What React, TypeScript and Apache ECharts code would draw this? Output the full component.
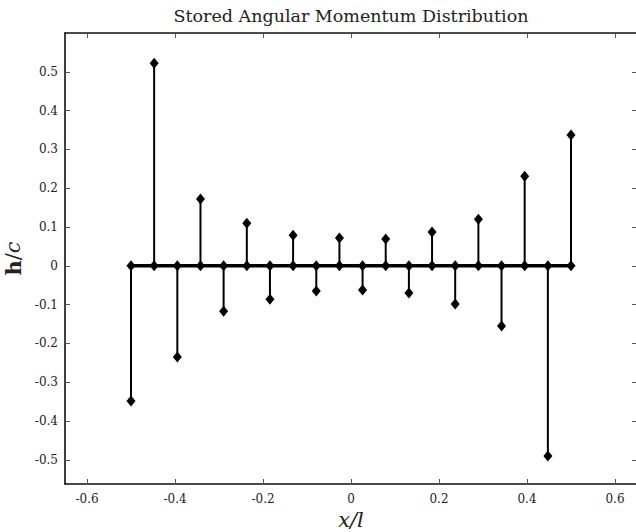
import React, { useEffect, useRef } from "react";
import * as echarts from "echarts";

const xPositions = [
  -0.5, -0.4474, -0.3947, -0.3421, -0.2895, -0.2368, -0.1842, -0.1316, -0.0789, -0.0263,
  0.0263, 0.0789, 0.1316, 0.1842, 0.2368, 0.2895, 0.3421, 0.3947, 0.4474, 0.5,
];
const hValues = [
  -0.348, 0.522, -0.235, 0.172, -0.117, 0.11, -0.086, 0.079, -0.065, 0.072,
  -0.062, 0.069, -0.07, 0.087, -0.098, 0.12, -0.155, 0.231, -0.49, 0.337,
];
const xTicks = [-0.6, -0.4, -0.2, 0, 0.2, 0.4, 0.6];
const yTicks = [-0.5, -0.4, -0.3, -0.2, -0.1, 0, 0.1, 0.2, 0.3, 0.4, 0.5];

const FONT = "DejaVu Serif";

export default function App() {
  const ref = useRef<HTMLDivElement>(null);
  useEffect(() => {
    document.body.style.margin = "0";
    const chart = echarts.init(ref.current!, null, { renderer: "svg" });
    const fmt = (v: number) => (Math.abs(v) < 1e-9 ? "0" : v.toFixed(1));
    const frameLine = { show: true, onZero: false, lineStyle: { color: "#111", width: 1.6 } };
    const tick = (vals: number[]) => ({
      show: true,
      inside: true,
      length: 5,
      customValues: vals,
      lineStyle: { color: "#555", width: 1 },
    });
    const stemData = xPositions.map((x, i) => [x, hValues[i]]);
    const baseData = xPositions.map((x) => [x, 0]);
    chart.setOption({
      animation: false,
      backgroundColor: "#fff",
      title: {
        text: "Stored Angular Momentum Distribution",
        left: 346,
        top: 2,
        textAlign: "center",
        textStyle: { fontFamily: FONT, fontWeight: "normal", fontSize: 17.5, color: "#222" },
      },
      grid: { left: 65, top: 33, width: 572, height: 451, outerBoundsMode: "none", containLabel: false },
      xAxis: [
        {
          type: "value",
          position: "bottom",
          min: -0.65,
          max: 0.65,
          axisLine: frameLine,
          axisTick: tick(xTicks),
          axisLabel: {
            customValues: xTicks,
            formatter: fmt,
            fontFamily: FONT,
            fontSize: 12,
            color: "#222",
            margin: 9,
          },
          splitLine: { show: false },
          name: "x/l",
          nameLocation: "middle",
          nameGap: 22,
          nameTextStyle: { fontFamily: FONT, fontStyle: "italic", fontSize: 21, color: "#222" },
        },
        {
          type: "value",
          position: "top",
          min: -0.65,
          max: 0.65,
          axisLine: frameLine,
          axisTick: tick(xTicks),
          axisLabel: { show: false },
          splitLine: { show: false },
        },
      ],
      yAxis: [
        {
          type: "value",
          position: "left",
          min: -0.562,
          max: 0.6,
          axisLine: frameLine,
          axisTick: tick(yTicks),
          axisLabel: {
            customValues: yTicks,
            formatter: fmt,
            fontFamily: FONT,
            fontSize: 12,
            color: "#222",
            margin: 7,
          },
          splitLine: { show: false },
          name: "{b|h}{n|/}{i|c}",
          nameLocation: "middle",
          nameRotate: 90,
          nameGap: 30,
          nameTextStyle: {
            fontFamily: FONT,
            fontSize: 21,
            color: "#222",
            rich: {
              b: { fontFamily: FONT, fontWeight: "bold", fontSize: 21, color: "#222" },
              n: { fontFamily: FONT, fontSize: 21, color: "#222" },
              i: { fontFamily: FONT, fontStyle: "italic", fontSize: 21, color: "#222" },
            },
          },
        },
        {
          type: "value",
          position: "right",
          min: -0.562,
          max: 0.6,
          axisLine: frameLine,
          axisTick: tick(yTicks),
          axisLabel: { show: false },
          splitLine: { show: false },
        },
      ],
      series: [
        {
          type: "custom",
          xAxisIndex: 0,
          yAxisIndex: 0,
          data: stemData,
          renderItem: (params: any, api: any) => {
            const x = api.value(0);
            const y = api.value(1);
            const p0 = api.coord([x, 0]);
            const p1 = api.coord([x, y]);
            return {
              type: "line",
              shape: { x1: p0[0], y1: p0[1], x2: p1[0], y2: p1[1] },
              style: { stroke: "#000", lineWidth: 2 },
            };
          },
          z: 2,
        },
        {
          type: "line",
          data: baseData,
          symbol: "none",
          lineStyle: { color: "#000", width: 3.5 },
          z: 3,
        },
        {
          type: "scatter",
          data: baseData,
          symbol: "diamond",
          symbolSize: [9, 11],
          itemStyle: { color: "#000", opacity: 1 },
          z: 4,
        },
        {
          type: "scatter",
          data: stemData,
          symbol: "diamond",
          symbolSize: [9, 11],
          itemStyle: { color: "#000", opacity: 1 },
          z: 4,
        },
      ],
    });
    return () => chart.dispose();
  }, []);
  return <div ref={ref} style={{ width: 636, height: 532 }} />;
}
